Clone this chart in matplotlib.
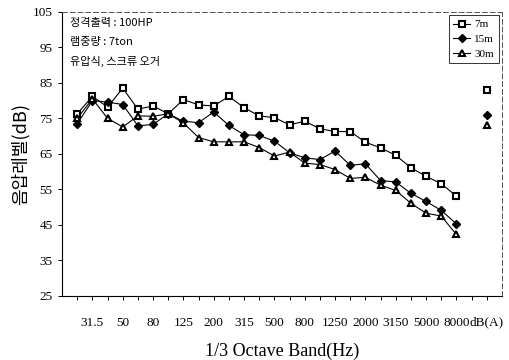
import numpy as np
import matplotlib
matplotlib.use("Agg")
import matplotlib.pyplot as plt

plt.rcParams['font.family'] = ['Liberation Serif', 'Noto Sans CJK KR', 'DejaVu Sans']

# 1/3 octave band centres (25 Hz .. 8 kHz), one empty slot, then overall dB(A)
bands = ["25", "31.5", "40", "50", "63", "80", "100", "125", "160", "200", "250",
         "315", "400", "500", "630", "800", "1000", "1250", "1600", "2000", "2500",
         "3150", "4000", "5000", "6300", "8000"]
labelled = ["31.5", "50", "80", "125", "200", "315", "500", "800", "1250", "2000",
            "3150", "5000", "8000"]

spl_7m = [76.3, 81.2, 78.2, 83.5, 77.6, 78.5, 76.3, 80.3, 78.8, 78.5, 81.2, 78.0,
          75.7, 75.2, 73.2, 74.2, 72.1, 71.3, 71.3, 68.3, 66.7, 64.6, 61.1, 58.7,
          56.6, 53.1]
spl_15m = [73.5, 80.0, 79.6, 78.9, 72.9, 73.3, 76.3, 74.2, 73.8, 76.8, 73.0, 70.4,
           70.2, 68.6, 65.3, 63.9, 63.4, 65.8, 61.8, 62.2, 57.5, 57.1, 53.9, 51.6,
           49.1, 45.3]
spl_30m = [75.0, 80.5, 75.0, 72.6, 75.7, 75.6, 76.3, 73.7, 69.6, 68.4, 68.4, 68.4,
           66.8, 64.4, 65.5, 62.4, 62.0, 60.6, 58.1, 58.4, 56.2, 54.7, 51.1, 48.3,
           47.5, 42.3]
dba = {"7m": 83.0, "15m": 75.9, "30m": 73.0}

notes = ["정격출력 : 100HP", "램중량 : 7ton", "유압식, 스크류 오거"]

x = np.arange(len(bands))
x_dba = len(bands) + 1

fig = plt.figure(figsize=(5.09, 3.6), dpi=100)
ax = fig.add_axes([0.122, 0.178, 0.864, 0.789])

styles = [
    ("7m", spl_7m, dict(marker="s", ms=4.3, mfc="white", mec="black", mew=1.5)),
    ("15m", spl_15m, dict(marker="D", ms=3.6, mfc="black", mec="black", mew=1.0)),
    ("30m", spl_30m, dict(marker="^", ms=4.3, mfc="white", mec="black", mew=1.5)),
]
for name, vals, mk in styles:
    ax.plot(x, vals, color="black", lw=0.8, label=name, **mk)
    ax.plot([x_dba], [dba[name]], ls="none", **mk)

ax.set_xlim(-1, 28)
ax.set_ylim(25, 105)
ax.set_yticks(np.arange(25, 106, 10))

tick_pos = [bands.index(b) for b in labelled] + [x_dba]
ax.set_xticks(tick_pos)
ax.set_xticklabels(labelled + ["dB(A)"], fontsize=9.5)
ax.set_xticks(np.arange(0, 28), minor=True)
ax.tick_params(axis="x", which="both", direction="out", length=3, width=0.7, pad=12)
ax.tick_params(axis="y", direction="out", length=3, width=0.7, labelsize=9.5, pad=4)

for side in ["top", "right"]:
    ax.spines[side].set_linestyle((0, (5, 3)))
    ax.spines[side].set_color("#555555")
    ax.spines[side].set_linewidth(0.7)
for side in ["left", "bottom"]:
    ax.spines[side].set_linewidth(0.8)

ax.set_xlabel("1/3 Octave Band(Hz)", fontsize=13, labelpad=10)
ax.set_ylabel("음압레벨(dB)", fontsize=13, family=["Noto Sans CJK KR", "DejaVu Sans"],
              labelpad=2)

for i, line in enumerate(notes):
    ax.text(0.018, 0.96 - i * 0.067, line, transform=ax.transAxes, fontsize=8,
            va="center", family=["Noto Sans CJK KR", "DejaVu Sans"])

leg = ax.legend(loc="upper right", fontsize=8, frameon=True, fancybox=False,
                edgecolor="black", handlelength=1.5, handletextpad=0.4,
                borderaxespad=0.3, borderpad=0.4, labelspacing=0.45)
leg.get_frame().set_linewidth(0.7)

fig.savefig("out.png", dpi=100)
